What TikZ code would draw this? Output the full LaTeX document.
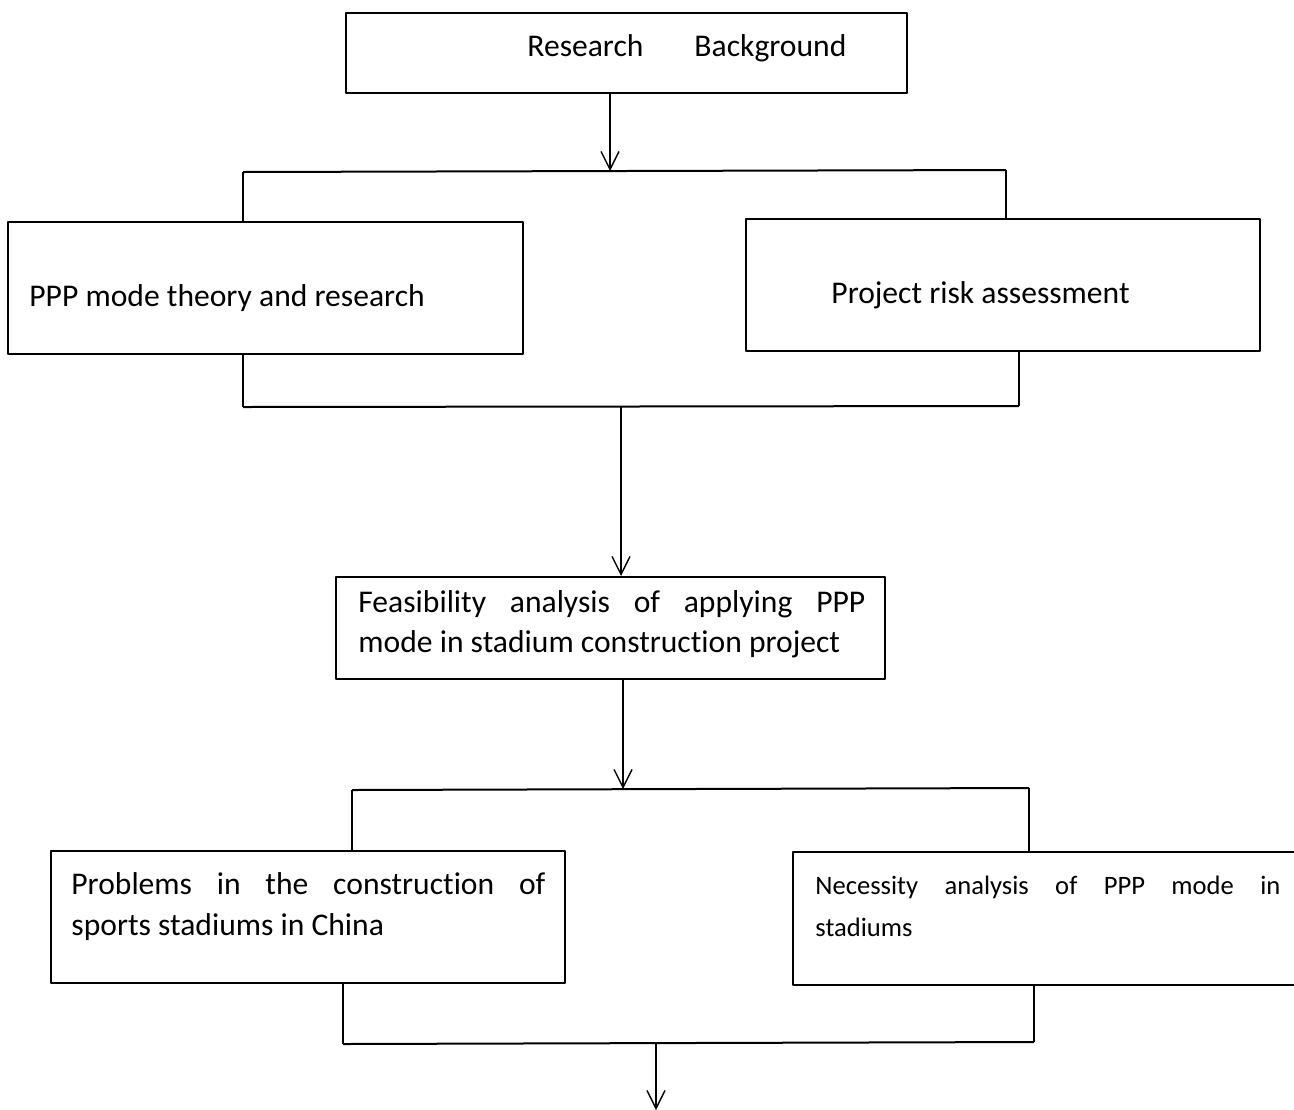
\documentclass[tikz,border=0pt]{standalone}
\usepackage{fontspec}
\setmainfont{Carlito}[Ligatures=NoCommon]
\usetikzlibrary{arrows.meta,fit}

\begin{document}
\begin{tikzpicture}[x=0.5pt, y=-0.5pt, line join=round, >={Straight Barb[length=9pt,width=9pt]},
  box/.style={draw, line width=1pt, inner sep=0pt},
  txt/.style={inner sep=0pt, anchor=base west, font=\fontsize{15.8}{20.3}\selectfont},
  conn/.style={line width=0.7pt},
  bar/.style={line width=1pt}]
\useasboundingbox (0,0) rectangle (1294,1109);
% boxes
\node[box, fit={(346,13) (907,93)}] (bg) {};
\node[box, fit={(8,222) (523,354)}] (ppp) {};
\node[box, fit={(746,219) (1260,351)}] (risk) {};
\node[box, fit={(336,577) (885,679)}] (feas) {};
\node[box, fit={(51,851) (565,983)}] (prob) {};
\node[box, fit={(793,852) (1310,985)}] (nec) {};
% texts
\node[txt] (bgtext) at (527,56) {Research\hspace{25.5pt}Background};
\node[txt] (ppptext) at (29,306) {PPP mode theory and research};
\node[txt] (risktext) at (831,303) {Project risk assessment};
\node[txt, text width=253.5pt, align=justify] (feastext) at (358,612)
  {Feasibility analysis of applying PPP\linebreak mode in stadium construction project};
\node[txt, text width=237pt, align=justify, font=\fontsize{15.8}{20.5}\selectfont] (probtext) at (71,894)
  {Problems in the construction of\linebreak sports stadiums in China};
\node[txt, text width=232.5pt, align=justify, font=\fontsize{13.3}{21}\selectfont] (nectext) at (815,894)
  {Necessity analysis of PPP mode in\linebreak stadiums};
% first fork
\coordinate (b1l) at (243,172);
\coordinate (b1m) at (610,171);
\coordinate (b1r) at (1006,170);
\draw[conn,->] (bg.south -| b1m) -- (b1m);
\draw[bar] (b1l) -- (b1r);
\draw[conn] (b1l) -- (b1l |- ppp.north);
\draw[conn] (b1r) -- (b1r |- risk.north);
% join
\coordinate (b2l) at (243,407);
\coordinate (b2m) at (621,407);
\coordinate (b2r) at (1019,406);
\draw[conn] (b2l |- ppp.south) -- (b2l);
\draw[conn] (b2r |- risk.south) -- (b2r);
\draw[bar] (b2l) -- (b2r);
\draw[conn,->] (b2m) -- (b2m |- feas.north);
% second fork
\coordinate (b3l) at (352,790);
\coordinate (b3m) at (623,789);
\coordinate (b3r) at (1029,788);
\draw[conn,->] (feas.south -| b3m) -- (b3m);
\draw[bar] (b3l) -- (b3r);
\draw[conn] (b3l) -- (b3l |- prob.north);
\draw[conn] (b3r) -- (b3r |- nec.north);
% last join
\coordinate (b4l) at (343,1044);
\coordinate (b4m) at (656,1043);
\coordinate (b4r) at (1034,1042);
\coordinate (end) at (656,1110);
\draw[conn] (b4l |- prob.south) -- (b4l);
\draw[conn] (b4r |- nec.south) -- (b4r);
\draw[bar] (b4l) -- (b4r);
\draw[conn,->] (b4m) -- (end);
\end{tikzpicture}
\end{document}
